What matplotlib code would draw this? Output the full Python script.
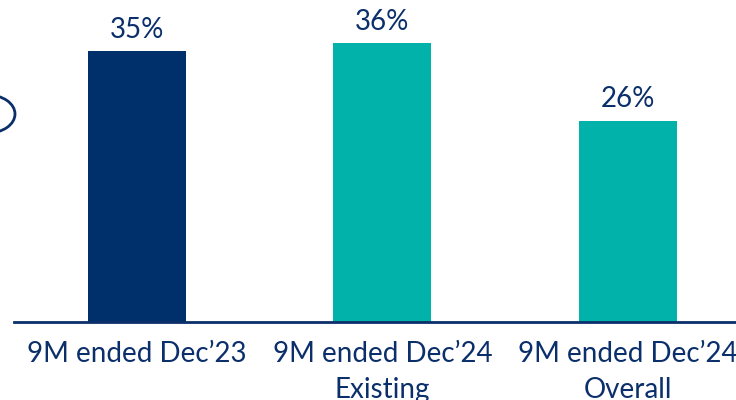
import matplotlib.pyplot as plt
from matplotlib.patches import Ellipse

categories = ["9M ended Dec\u201923", "9M ended Dec\u201924\nExisting", "9M ended Dec\u201924\nOverall"]
values = [35, 36, 26]
colors = ["#00306B", "#00B2A9", "#00B2A9"]

navy = "#0B2F6A"
plt.rcParams['font.family'] = ['Lato', 'DejaVu Sans']

fig = plt.figure(figsize=(7.36, 4.0), dpi=100)
ax = fig.add_axes([14 / 736, 78 / 400, 722 / 736, 322 / 400])

x = range(len(values))
bars = ax.bar(x, values, width=0.4, color=colors)
for b, v in zip(bars, values):
    ax.annotate(f"{v}%", (b.get_x() + b.get_width() / 2, v), xytext=(0, 6),
                textcoords="offset points", ha="center", va="bottom",
                fontsize=20, color=navy)

ax.set_xlim(-0.5, 2.44)
ax.set_ylim(0, 41.6)
ax.set_xticks(list(x))
ax.set_xticklabels(categories, fontsize=20, color=navy, linespacing=1.45)
ax.tick_params(axis="x", length=0, pad=14)
ax.set_yticks([])
for side in ["top", "right", "left"]:
    ax.spines[side].set_visible(False)
ax.spines["bottom"].set_color(navy)
ax.spines["bottom"].set_linewidth(2)

# partial outline on the left edge
ell = Ellipse((-12 / 736, 1 - 114 / 400), 54 / 736, 38 / 400, transform=fig.transFigure,
              fill=False, edgecolor=navy, linewidth=2)
fig.patches.append(ell)

fig.savefig("out.png", dpi=100)
